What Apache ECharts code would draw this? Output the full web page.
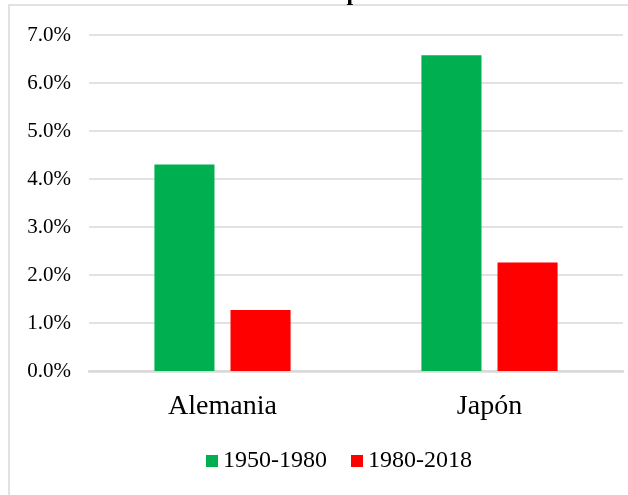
<!DOCTYPE html>
<html>
<head>
<meta charset="utf-8">
<script src="https://cdn.jsdelivr.net/npm/echarts@6/dist/echarts.min.js"></script>
<style>
  html, body { margin: 0; padding: 0; background: #fff; }
  #chart { width: 628px; height: 495px; }
</style>
</head>
<body>
<div id="chart"></div>
<script>
var categories = ['Alemania', 'Japón'];
var seriesNames = ['1950-1980', '1980-2018'];
var values1950 = [4.3, 6.58];
var values1980 = [1.27, 2.26];
var yTicks = [0, 1, 2, 3, 4, 5, 6, 7];

var serif = '"Liberation Serif", "Times New Roman", serif';
var myChart = echarts.init(document.getElementById('chart'));

myChart.setOption({
  backgroundColor: '#fff',
  animation: false,
  graphic: [
    // chart area border (cut off on right/bottom like the source)
    {
      type: 'rect',
      shape: { x: 9, y: 5, width: 640, height: 520 },
      style: { fill: 'none', stroke: '#d9d9d9', lineWidth: 1.5 }
    },
    // title, mostly clipped above the picture
    {
      type: 'text',
      x: 323,
      y: -18,
      style: {
        text: 'Tasa de crecimiento promedio anual',
        font: 'bold 24px ' + serif,
        fill: '#000',
        align: 'center',
        verticalAlign: 'top'
      }
    }
  ],
  legend: {
    data: seriesNames,
    top: 444,
    left: 201,
    itemWidth: 12,
    itemHeight: 12,
    itemGap: 24,
    icon: 'rect',
    textStyle: { fontFamily: serif, fontSize: 24, color: '#000', padding: [0, 0, 0, 0] }
  },
  grid: { left: 89, top: 35, width: 534, height: 336, containLabel: false },
  xAxis: {
    type: 'category',
    data: categories,
    axisTick: { show: false },
    axisLine: { lineStyle: { color: '#d9d9d9', width: 2.5 } },
    axisLabel: { fontFamily: serif, fontSize: 28, color: '#000', margin: 22 }
  },
  yAxis: {
    type: 'value',
    min: yTicks[0],
    max: yTicks[yTicks.length - 1],
    interval: 1,
    axisLine: { show: false },
    axisTick: { show: false },
    splitLine: { lineStyle: { color: '#d9d9d9', width: 1.5 } },
    axisLabel: {
      fontFamily: serif, fontSize: 21, color: '#000', margin: 18,
      formatter: function (v) { return v.toFixed(1) + '%'; }
    }
  },
  series: [
    {
      name: seriesNames[0],
      type: 'bar',
      data: values1950,
      itemStyle: { color: '#00b050' },
      barGap: '26.7%',
      barCategoryGap: '49%'
    },
    {
      name: seriesNames[1],
      type: 'bar',
      data: values1980,
      itemStyle: { color: '#ff0000' }
    }
  ]
});
</script>
</body>
</html>
